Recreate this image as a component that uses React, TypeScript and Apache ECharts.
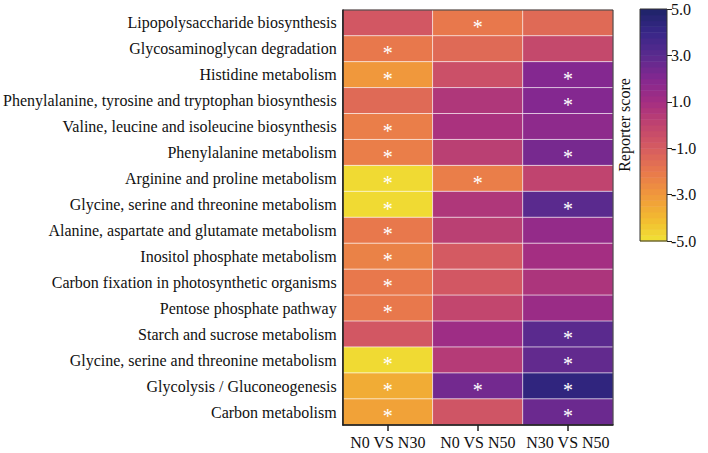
import React, { useEffect, useRef } from "react";
import * as echarts from "echarts";

const pathways = [
  "Lipopolysaccharide biosynthesis",
  "Glycosaminoglycan degradation",
  "Histidine metabolism",
  "Phenylalanine, tyrosine and tryptophan biosynthesis",
  "Valine, leucine and isoleucine biosynthesis",
  "Phenylalanine metabolism",
  "Arginine and proline metabolism",
  "Glycine, serine and threonine metabolism",
  "Alanine, aspartate and glutamate metabolism",
  "Inositol phosphate metabolism",
  "Carbon fixation in photosynthetic organisms",
  "Pentose phosphate pathway",
  "Starch and sucrose metabolism",
  "Glycine, serine and threonine metabolism",
  "Glycolysis / Gluconeogenesis",
  "Carbon metabolism",
];

const comparisons = ["N0 VS N30", "N0 VS N50", "N30 VS N50"];

const scoreN0vsN30 = [-0.8, -2.0, -3.0, -1.5, -2.2, -2.2, -4.8, -4.8, -2.0, -2.3, -2.0, -2.0, -0.8, -4.8, -3.6, -3.3];
const scoreN0vsN50 = [-2.0, -1.5, -0.5, 0.6, 0.8, 0.2, -2.2, 0.6, 0.2, -0.9, -0.8, -0.1, 1.2, 0.4, 2.4, -0.7];
const scoreN30vsN50 = [-1.5, -0.2, 2.0, 2.0, 1.7, 2.3, 0.0, 3.0, 1.5, 1.0, 0.7, 1.3, 3.0, 2.8, 4.3, 2.6];

const sigN0vsN30 = [0, 1, 1, 0, 1, 1, 1, 1, 1, 1, 1, 1, 0, 1, 1, 1];
const sigN0vsN50 = [1, 0, 0, 0, 0, 0, 1, 0, 0, 0, 0, 0, 0, 0, 1, 0];
const sigN30vsN50 = [0, 0, 1, 1, 0, 1, 0, 1, 0, 0, 0, 0, 1, 1, 1, 1];

const colorbarTicks = [-5, -3, -1, 1, 3, 5];
const scoreMin = -5;
const scoreMax = 5;

const palette = [
  "#f0e234", "#f2b930", "#f0983c", "#e8784c", "#d65c60", "#c0446f",
  "#a42e82", "#842890", "#5a2a8e", "#382688", "#1e2468",
];

export default function App() {
  const ref = useRef<HTMLDivElement>(null);

  useEffect(() => {
    if (!ref.current) return;
    const chart = echarts.init(ref.current, undefined, { renderer: "svg" });

    const scores = [scoreN0vsN30, scoreN0vsN50, scoreN30vsN50];
    const sigs = [sigN0vsN30, sigN0vsN50, sigN30vsN50];
    const heatData: any[] = [];
    scores.forEach((col, ci) => {
      col.forEach((v, ri) => {
        heatData.push([ci, ri, v, sigs[ci][ri]]);
      });
    });

    const bands: any[] = [];
    const steps = 40;
    const step = (scoreMax - scoreMin) / steps;
    for (let i = 0; i < steps; i++) {
      const lo = scoreMin + i * step;
      const hi = lo + step;
      bands.push([0, lo, (lo + hi) / 2, hi]);
    }

    const font = "'Liberation Serif', 'Times New Roman', serif";
    const rowKeys = pathways.map((_, i) => String(i));

    chart.setOption({
      animation: false,
      backgroundColor: "#ffffff",
      textStyle: { fontFamily: font },
      grid: [
        { left: 342, top: 10, width: 271, height: 415, show: true, borderColor: "#333", borderWidth: 1, backgroundColor: "transparent", z: 5 },
        { left: 640, top: 9, width: 27, height: 232, show: true, borderColor: "#333", borderWidth: 1, backgroundColor: "transparent", z: 5 },
      ],
      xAxis: [
        {
          type: "category",
          gridIndex: 0,
          data: comparisons,
          position: "bottom",
          axisLine: { show: true, lineStyle: { color: "#222", width: 1.5 } },
          axisTick: { show: true, alignWithLabel: true, length: 6, lineStyle: { color: "#222", width: 1.5 } },
          axisLabel: { color: "#111", fontSize: 16, fontFamily: font, margin: 9, interval: 0 },
          splitLine: { show: false },
          z: 5,
        },
        { type: "category", gridIndex: 1, data: ["cb"], show: false },
      ],
      yAxis: [
        {
          type: "category",
          gridIndex: 0,
          data: rowKeys,
          inverse: true,
          axisLine: { show: true, lineStyle: { color: "#222", width: 1.5 } },
          axisTick: { show: false },
          axisLabel: {
            color: "#111",
            fontSize: 16,
            fontFamily: font,
            margin: 6,
            interval: 0,
            formatter: (v: string) => pathways[Number(v)],
          },
          splitLine: { show: false },
          z: 5,
        },
        {
          type: "value",
          gridIndex: 1,
          min: scoreMin,
          max: scoreMax,
          interval: 2,
          position: "right",
          axisLine: { show: false },
          axisTick: { show: true, length: 5, lineStyle: { color: "#222" } },
          axisLabel: {
            color: "#111",
            fontSize: 16,
            fontFamily: font,
            margin: 4,
            formatter: (v: number) => (colorbarTicks.includes(Math.round(v)) ? v.toFixed(1) : ""),
          },
          splitLine: { show: false },
        },
        {
          type: "value",
          gridIndex: 1,
          min: scoreMin,
          max: scoreMax,
          position: "left",
          axisLine: { show: false },
          axisTick: { show: false },
          axisLabel: { show: false },
          splitLine: { show: false },
          name: "Reporter score",
          nameLocation: "middle",
          nameRotate: 90,
          nameGap: 8,
          nameTextStyle: { color: "#111", fontSize: 16, fontFamily: font },
        },
      ],
      visualMap: {
        type: "continuous",
        show: false,
        min: scoreMin,
        max: scoreMax,
        dimension: 2,
        seriesIndex: [0, 1],
        inRange: { color: palette },
      },
      series: [
        {
          type: "heatmap",
          xAxisIndex: 0,
          yAxisIndex: 0,
          data: heatData,
          itemStyle: { borderColor: "rgba(255,255,255,0.65)", borderWidth: 1 },
          label: {
            show: true,
            color: "#ffffff",
            fontSize: 20,
            fontFamily: font,
            offset: [0, 4],
            formatter: (p: any) => (p.data[3] ? "*" : ""),
          },
          emphasis: { disabled: true },
        },
        {
          type: "custom",
          xAxisIndex: 1,
          yAxisIndex: 1,
          data: bands,
          encode: { x: 0, y: 1 },
          renderItem: (params: any, api: any) => {
            const top = api.coord([0, api.value(3)]);
            const bottom = api.coord([0, api.value(1)]);
            const w = api.size([1, 0])[0];
            return {
              type: "rect",
              shape: { x: top[0] - w / 2, y: top[1], width: w, height: bottom[1] - top[1] + 0.5 },
              style: { fill: api.visual("color") },
            };
          },
        },
      ],
    });

    return () => chart.dispose();
  }, []);

  return <div ref={ref} style={{ width: 708, height: 453, position: "absolute", left: 0, top: 0 }} />;
}
